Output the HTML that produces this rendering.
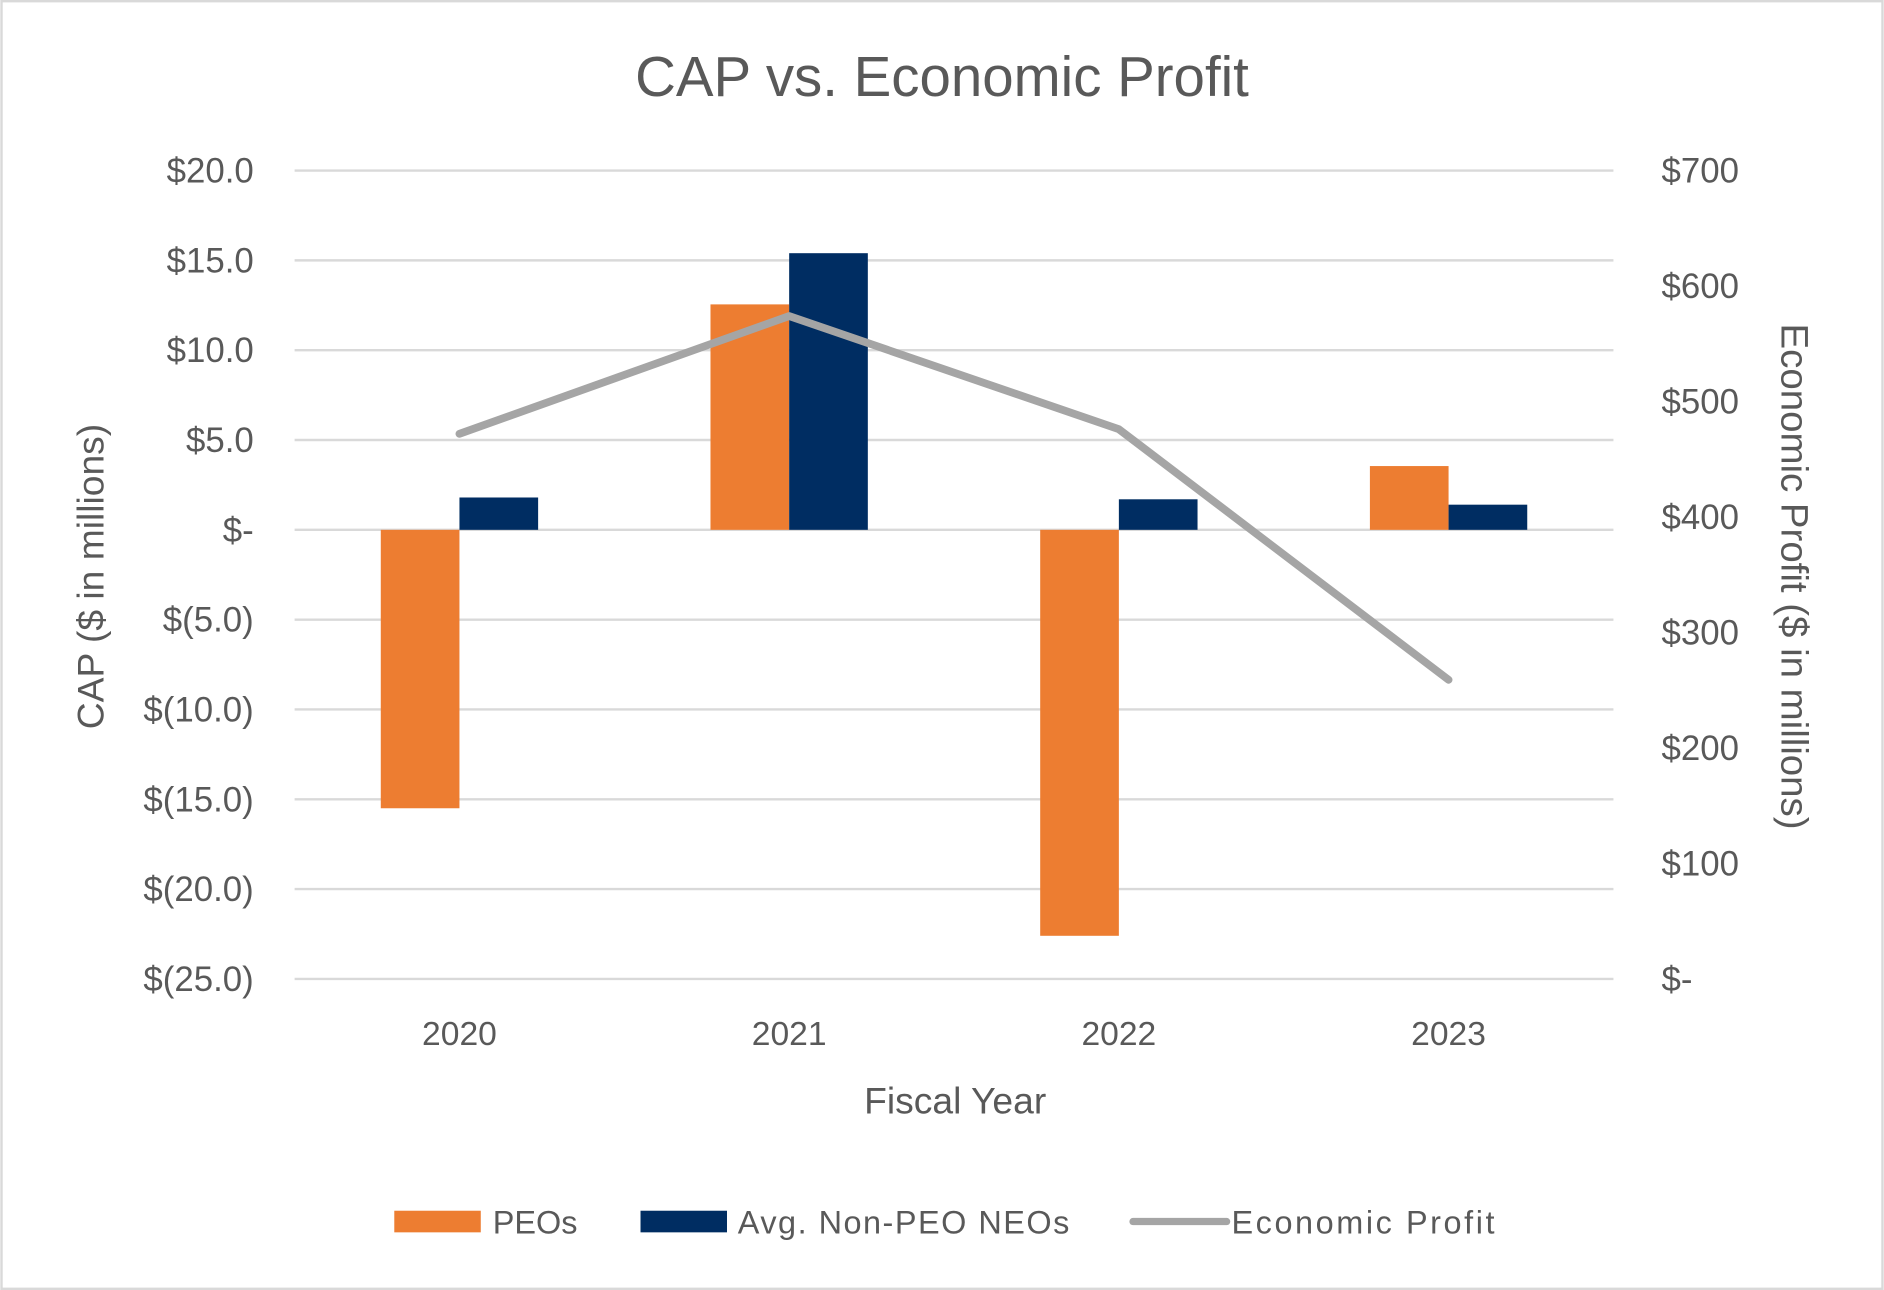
<!DOCTYPE html>
<html><head><meta charset="utf-8"><style>
html,body{margin:0;padding:0;background:#fff;}
svg{display:block;font-family:"Liberation Sans",sans-serif;}
</style></head><body>
<svg id="chart" width="1884" height="1290" viewBox="0 0 1568 1074" xmlns="http://www.w3.org/2000/svg">
<rect x="1" y="1" width="1566" height="1072" fill="#fff" stroke="#d9d9d9" stroke-width="2"/>
<text x="784" y="80" text-anchor="middle" font-size="47" fill="#595959">CAP vs. Economic Profit</text>
<g id="grid"></g><g id="bars"></g><g id="line"></g><g id="labels"></g>
<text transform="translate(86,480) rotate(-90)" text-anchor="middle" font-size="31" fill="#595959">CAP ($ in millions)</text>
<text transform="translate(1483,480) rotate(90)" text-anchor="middle" font-size="32" fill="#595959">Economic Profit ($ in millions)</text>
<text x="795" y="927" text-anchor="middle" font-size="31" fill="#595959">Fiscal Year</text>
<g font-size="27" fill="#595959">
<rect x="328" y="1008" width="72" height="18" fill="#ED7D31"/>
<text x="410" y="1027">PEOs</text>
<rect x="533" y="1008" width="72" height="18" fill="#002D62"/>
<text x="614" y="1027" textLength="276">Avg. Non-PEO NEOs</text>
<line x1="943" y1="1017" x2="1021" y2="1017" stroke="#A5A5A5" stroke-width="6" stroke-linecap="round"/>
<text x="1025" y="1027" textLength="219">Economic Profit</text>
</g>
</svg>
<script>
const categories = ["2020","2021","2022","2023"];
const peoValues = [-15.5, 12.55, -22.6, 3.55];
const neoValues = [1.8, 15.4, 1.7, 1.4];
const econProfit = [472, 574, 476, 259];
const leftTicks = [20,15,10,5,0,-5,-10,-15,-20,-25];
const leftTickLabels = ["$20.0","$15.0","$10.0","$5.0","$-","$(5.0)","$(10.0)","$(15.0)","$(20.0)","$(25.0)"];
const rightTicks = [700,600,500,400,300,200,100,0];
const rightTickLabels = ["$700","$600","$500","$400","$300","$200","$100","$-"];

const NS="http://www.w3.org/2000/svg";
const plotL=245, plotR=1343, yTop=142, yBot=815;
const yL = v => yTop + (20 - v) * (yBot - yTop) / 45;
const yR = v => yBot - v * (yBot - yTop) / 700;
const catW = (plotR - plotL) / categories.length;
const xC = i => plotL + catW * (i + 0.5);
const barW = 65.5;
function mk(tag, attrs, parent){const e=document.createElementNS(NS,tag);for(const k in attrs)e.setAttribute(k,attrs[k]);document.getElementById(parent).appendChild(e);return e;}

leftTicks.forEach((t,i)=>{
  const g=mk('line',{x1:plotL,x2:plotR,y1:yL(t),y2:yL(t),stroke:'#d9d9d9','stroke-width':2},'grid');
  
  
  const l=mk('text',{x:211,y:yL(t)+10,'text-anchor':'end','font-size':29,fill:'#595959'},'labels');
  l.textContent=leftTickLabels[i];
  
  
});
rightTicks.forEach((t,i)=>{
  const l=mk('text',{x:1383,y:yR(t)+10,'font-size':29,fill:'#595959'},'labels');
  l.textContent=rightTickLabels[i];
  
  
});
categories.forEach((c,i)=>{
  const l=mk('text',{x:xC(i),y:870,'text-anchor':'middle','font-size':28,fill:'#595959'},'labels');
  l.textContent=c;
  
  
  const v1=peoValues[i], v2=neoValues[i];
  const b1=mk('rect',{x:xC(i)-barW,width:barW,y:Math.min(yL(v1),yL(0)),height:Math.abs(yL(v1)-yL(0)),fill:'#ED7D31'},'bars');
  
  
  const b2=mk('rect',{x:xC(i),width:barW,y:Math.min(yL(v2),yL(0)),height:Math.abs(yL(v2)-yL(0)),fill:'#002D62'},'bars');
  
  
});
const pts=econProfit.map((v,i)=>xC(i)+','+yR(v)).join(' ');
const pl=mk('polyline',{points:pts,fill:'none',stroke:'#A5A5A5','stroke-width':6.5,'stroke-linejoin':'round','stroke-linecap':'round'},'line');


</script>
</body></html>
